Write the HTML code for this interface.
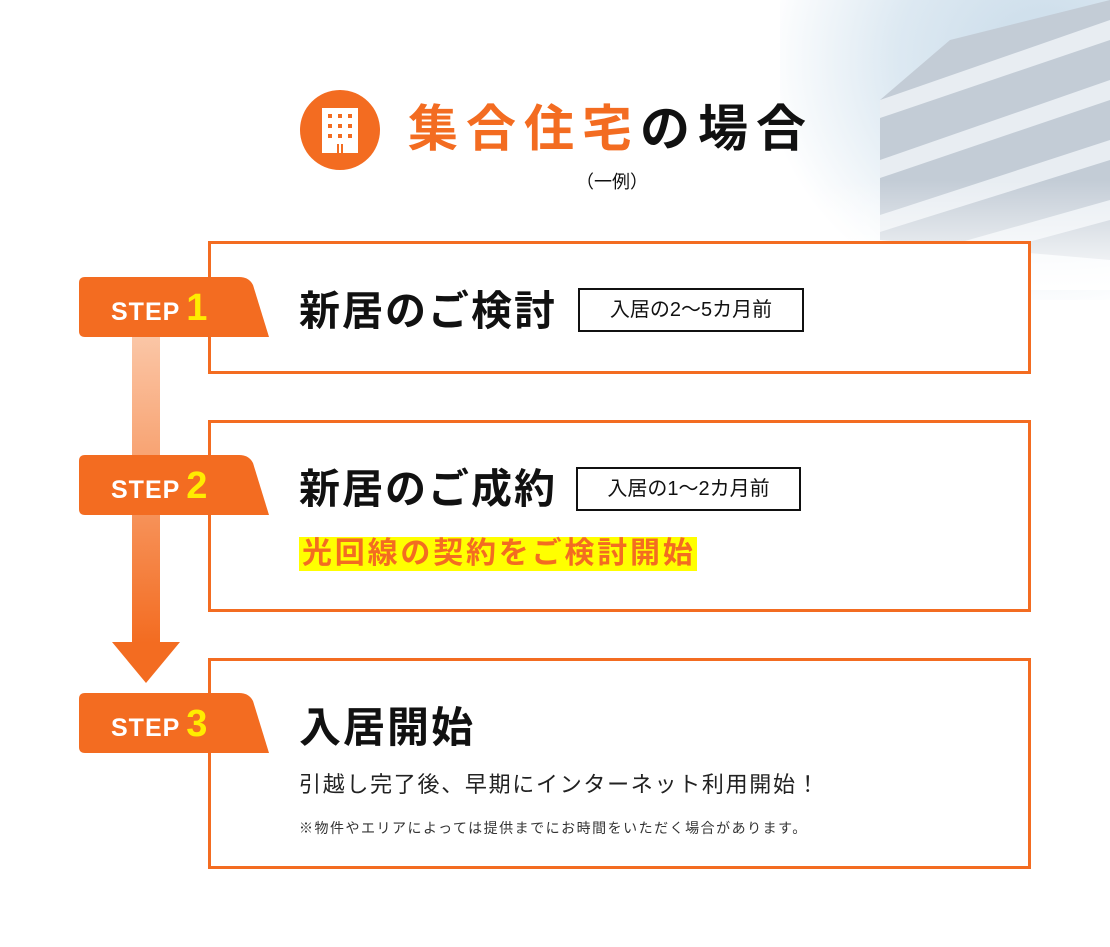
<!DOCTYPE html>
<html><head><meta charset="utf-8"><style>
*{margin:0;padding:0;box-sizing:border-box}
body{width:1110px;height:947px;position:relative;overflow:hidden;background:#fff;font-family:"Liberation Sans","Noto Sans CJK JP",sans-serif;color:#111}
.a{position:absolute;white-space:nowrap}
.box{position:absolute;left:208px;width:823px;border:3px solid #f36c21;background:#fff}
.tag{position:absolute;border:2px solid #111;font-size:20px;line-height:40px;text-align:center;background:#fff}
.t{font-size:41px;font-weight:bold;letter-spacing:2px}
.badge{position:absolute;left:79px;width:190px;height:60px}
.badge span{position:absolute;left:32px;top:0;line-height:62px;color:#fff;font-weight:bold;font-size:25px;letter-spacing:1px}
.badge b{color:#ffec00;font-size:38px;margin-left:6px}
</style></head><body>
<div class="a" style="left:780px;top:0;width:330px;height:300px;background:radial-gradient(ellipse at 80% 20%,#c9dbe9 0%,#dde9f2 40%,rgba(255,255,255,0) 75%)"></div>
<svg class="a" style="left:820px;top:0" width="290" height="290">
<defs><linearGradient id="f" x1="0" y1="0" x2="0" y2="1"><stop offset="0" stop-color="#fff" stop-opacity="0"/><stop offset="1" stop-color="#fff"/></linearGradient></defs>
<polygon points="60,240 60,100 130,40 290,0 290,260" fill="#c3ccd6"/>
<g fill="#e8edf2"><polygon points="60,100 290,20 290,40 60,118"/><polygon points="60,160 290,80 290,100 60,178"/><polygon points="60,215 290,140 290,160 60,232"/><polygon points="60,265 290,200 290,220 60,282"/></g>
<rect x="0" y="180" width="290" height="110" fill="url(#f)"/>
</svg>
<svg class="a" style="left:300px;top:90px" width="80" height="80"><circle cx="40" cy="40" r="40" fill="#f36c21"/><rect x="22" y="18" width="36" height="45" fill="#fff"/><g fill="#f36c21"><rect x="28" y="24" width="4" height="4"/><rect x="38" y="24" width="4" height="4"/><rect x="48" y="24" width="4" height="4"/><rect x="28" y="34" width="4" height="4"/><rect x="38" y="34" width="4" height="4"/><rect x="48" y="34" width="4" height="4"/><rect x="28" y="44" width="4" height="4"/><rect x="38" y="44" width="4" height="4"/><rect x="48" y="44" width="4" height="4"/><rect x="37" y="54" width="2" height="9"/><rect x="41" y="54" width="2" height="9"/></g></svg>
<div class="a" style="left:408px;top:96px;font-size:50px;font-weight:bold;letter-spacing:8px;line-height:66px"><span style="color:#f36c21">集合住宅</span>の場合</div>
<div class="a" style="left:576px;top:170px;font-size:18px;line-height:24px">（一例）</div>

<div class="box" style="top:241px;height:133px"></div>
<div class="box" style="top:420px;height:192px"></div>
<div class="box" style="top:658px;height:211px"></div>

<svg class="a" style="left:110px;top:330px" width="75" height="360"><defs><linearGradient id="g" x1="0" y1="0" x2="0" y2="1"><stop offset="0" stop-color="#fbc8a9"/><stop offset="1" stop-color="#f36c21"/></linearGradient></defs><rect x="22" y="0" width="28" height="313" fill="url(#g)"/><polygon points="2,312 70,312 36,353" fill="#f36c21"/></svg>

<svg class="a" style="left:79px;top:277px" width="190" height="60"><path d="M6,0H160Q170,0 174,8L190,60H6Q0,60 0,54V6Q0,0 6,0Z" fill="#f36c21"/></svg>
<div class="badge" style="top:277px"><span>STEP<b>1</b></span></div>
<svg class="a" style="left:79px;top:455px" width="190" height="60"><path d="M6,0H160Q170,0 174,8L190,60H6Q0,60 0,54V6Q0,0 6,0Z" fill="#f36c21"/></svg>
<div class="badge" style="top:455px"><span>STEP<b>2</b></span></div>
<svg class="a" style="left:79px;top:693px" width="190" height="60"><path d="M6,0H160Q170,0 174,8L190,60H6Q0,60 0,54V6Q0,0 6,0Z" fill="#f36c21"/></svg>
<div class="badge" style="top:693px"><span>STEP<b>3</b></span></div>

<div class="a t" style="left:299px;top:285px;line-height:52px">新居のご検討</div>
<div class="tag" style="left:578px;top:288px;width:226px;height:44px">入居の2〜5カ月前</div>
<div class="a t" style="left:299px;top:463px;line-height:52px">新居のご成約</div>
<div class="tag" style="left:576px;top:467px;width:225px;height:44px">入居の1〜2カ月前</div>
<div class="a" style="left:299px;top:537px;width:398px;height:34px;background:#ffff00;color:#f36c21;font-weight:bold;font-size:30px;line-height:34px;letter-spacing:2.8px;padding-left:3px">光回線の契約をご検討開始</div>
<div class="a t" style="left:299px;top:702px;line-height:52px;font-size:42px;letter-spacing:2px">入居開始</div>
<div class="a" style="left:299px;top:771px;font-size:22px;line-height:28px;letter-spacing:1.7px;color:#222">引越し完了後、早期にインターネット利用開始！</div>
<div class="a" style="left:299px;top:819px;font-size:14px;line-height:18px;letter-spacing:1.5px;color:#333">※物件やエリアによっては提供までにお時間をいただく場合があります。</div>
</body></html>
